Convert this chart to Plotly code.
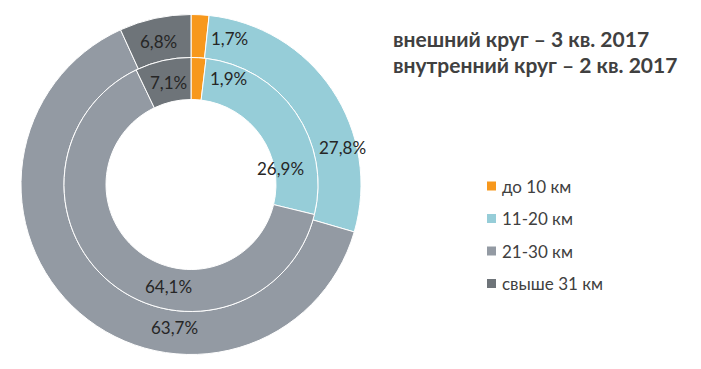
import plotly.graph_objects as go

categories = ["до 10 км", "11-20 км", "21-30 км", "свыше 31 км"]
outer_q3_2017 = [1.7, 27.8, 63.7, 6.8]
inner_q2_2017 = [1.9, 26.9, 64.1, 7.1]
colors = ["#F7981D", "#96CDD8", "#939AA3", "#6E7479"]
title_lines = ["внешний круг – 3 кв. 2017", "внутренний круг – 2 кв. 2017"]

W, H = 701, 369
cx, cy = 191, 184.5
R_out, R_mid, R_in = 170, 127, 85

def px(x):
    return x / W

def py(y):
    return 1 - y / H

fig = go.Figure()
fig.add_trace(go.Pie(
    labels=categories, values=outer_q3_2017, sort=False, direction="clockwise",
    rotation=0, hole=R_mid / R_out, textinfo="none", hoverinfo="label+value",
    marker=dict(colors=colors, line=dict(color="white", width=1)),
    domain=dict(x=[px(cx - R_out), px(cx + R_out)], y=[py(cy + R_out), py(cy - R_out)]),
    showlegend=False,
))
fig.add_trace(go.Pie(
    labels=categories, values=inner_q2_2017, sort=False, direction="clockwise",
    rotation=0, hole=R_in / R_mid, textinfo="none", hoverinfo="label+value",
    marker=dict(colors=colors, line=dict(color="white", width=1)),
    domain=dict(x=[px(cx - R_mid), px(cx + R_mid)], y=[py(cy + R_mid), py(cy - R_mid)]),
    showlegend=False,
))

def fmt(v):
    return f"{v:.1f}".replace(".", ",") + "%"

# label anchor positions (pixels) for value labels
outer_pos = [(229, 38), (342, 147), (174, 327), (158, 42)]
inner_pos = [(228, 79), (280, 168), (168, 286), (168, 82)]

annotations = []
shapes = []
label_font = dict(family="Lato, Open Sans, sans-serif", size=17, color="#262626")
for vals, poss in ((outer_q3_2017, outer_pos), (inner_q2_2017, inner_pos)):
    for v, (x, y) in zip(vals, poss):
        annotations.append(dict(x=px(x), y=py(y), xref="paper", yref="paper",
                                text=fmt(v), showarrow=False, font=label_font,
                                xanchor="center", yanchor="middle"))

for i, line in enumerate(title_lines):
    annotations.append(dict(x=px(391), y=py(38 + 27 * i), xref="paper", yref="paper",
                            text=f"<b>{line}</b>", showarrow=False, xanchor="left",
                            yanchor="middle",
                            font=dict(family="Lato, Open Sans, sans-serif", size=21, color="#404040")))

for i, (cat, col) in enumerate(zip(categories, colors)):
    y = 186 + 32.5 * i
    shapes.append(dict(type="rect", xref="paper", yref="paper",
                       x0=px(487), x1=px(496), y0=py(y + 4.5), y1=py(y - 4.5),
                       fillcolor=col, line=dict(width=0)))
    annotations.append(dict(x=px(500), y=py(y), xref="paper", yref="paper",
                            text=cat, showarrow=False,
                            xanchor="left", yanchor="middle",
                            font=dict(family="Lato, Open Sans, sans-serif", size=17, color="#404040")))

fig.update_layout(
    width=W, height=H, margin=dict(l=0, r=0, t=0, b=0),
    paper_bgcolor="white", plot_bgcolor="white",
    annotations=annotations, shapes=shapes,
)
fig.write_html("out.html", config={"displayModeBar": False},
               post_script="document.body.style.margin='0';")
